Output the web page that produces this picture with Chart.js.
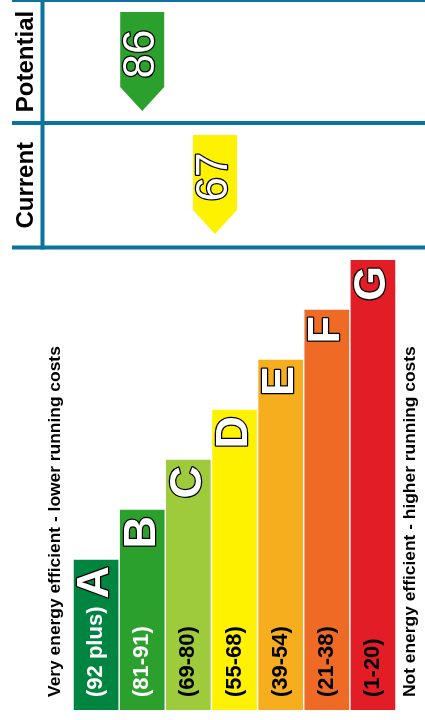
<!DOCTYPE html>
<html>
<head>
<meta charset="utf-8">
<script src="https://cdn.jsdelivr.net/npm/chart.js@4/dist/chart.umd.min.js"></script>
<style>
  html, body { margin: 0; padding: 0; background: #fff; }
  canvas { display: block; }
</style>
</head>
<body>
<canvas id="epc" width="425" height="720"></canvas>
<script>
  // bands, best to worst
  const bandLetters = ['A', 'B', 'C', 'D', 'E', 'F', 'G']
  const bandRanges = ['(92 plus)', '(81-91)', '(69-80)', '(55-68)', '(39-54)', '(21-38)', '(1-20)']
  const bandLow = [92, 81, 69, 55, 39, 21, 1]
  const bandHigh = [100, 91, 80, 68, 54, 38, 20]
  const bandLength = [3, 4, 5, 6, 7, 8, 9]
  const bandColors = ['#008540', '#2ba02d', '#9dcb3c', '#fff200', '#f6ad1e', '#ee6a25', '#e31d25']
  const rangeTextColors = ['#fff', '#fff', '#000', '#000', '#000', '#000', '#000']

  // ratings shown in the top panel
  const ratingLabels = ['Potential', 'Current']
  const ratingValues = [86, 67]

  const FONT = '"Liberation Sans", Arial, sans-serif'
  const FRAME = '#0a73a0'

  // where a rating sits along the band axis (fractional band index)
  const ratingPosition = (value) => {
    const i = bandLow.findIndex((lo, idx) => value >= lo && value <= bandHigh[idx])
    const frac = (value - bandLow[i]) / (bandHigh[i] - bandLow[i])
    return { index: i, pos: i + 0.5 - frac }
  }

  const rotatedText = (ctx, text, x, y, font, color, align, baseline, stroke) => {
    ctx.save()
    ctx.translate(x, y)
    ctx.rotate(-Math.PI / 2)
    ctx.font = font
    ctx.textAlign = align
    ctx.textBaseline = baseline
    if (stroke) {
      ctx.lineWidth = 2.5
      ctx.lineJoin = 'round'
      ctx.strokeStyle = '#000'
      ctx.strokeText(text, 0, 0)
    }
    ctx.fillStyle = color
    ctx.fillText(text, 0, 0)
    ctx.restore()
  }

  const epcDecor = {
    id: 'epcDecor',
    afterDraw(chart) {
      const ctx = chart.ctx
      const xScale = chart.scales.x
      const meta = chart.getDatasetMeta(0)

      // band labels
      meta.data.forEach((bar, i) => {
        rotatedText(ctx, bandRanges[i], bar.x, bar.base - 13, 'bold 22px ' + FONT,
          rangeTextColors[i], 'left', 'middle')
        rotatedText(ctx, bandLetters[i], bar.x, bar.y + 6, 'bold 45px ' + FONT,
          '#fff', 'right', 'middle', true)
      })

      // side captions
      const bottom = meta.data[0].base - 13
      rotatedText(ctx, 'Very energy efficient - lower running costs', 59.5, bottom,
        'bold 17.4px ' + FONT, '#000', 'left', 'alphabetic')
      rotatedText(ctx, 'Not energy efficient - higher running costs', 415, bottom,
        'bold 17.4px ' + FONT, '#000', 'left', 'alphabetic')

      // top panel frame
      const rowLines = [0, 123, 247.5]
      ctx.save()
      ctx.strokeStyle = FRAME
      ctx.lineWidth = 4
      rowLines.forEach((y) => {
        ctx.beginPath()
        ctx.moveTo(12, y)
        ctx.lineTo(425, y)
        ctx.stroke()
      })
      ctx.beginPath()
      ctx.moveTo(42.5, 0)
      ctx.lineTo(42.5, 249.5)
      ctx.stroke()
      ctx.restore()

      // rating arrows
      ratingLabels.forEach((label, r) => {
        const top = rowLines[r]
        const mid = (rowLines[r] + rowLines[r + 1]) / 2
        rotatedText(ctx, label, 33, mid, 'bold 24px ' + FONT, '#000', 'center', 'alphabetic')

        const { index, pos } = ratingPosition(ratingValues[r])
        const cx = xScale.getPixelForValue(pos)
        const w = 44
        const y0 = top + 12
        const y1 = y0 + 75
        const tip = y1 + 24
        ctx.save()
        ctx.fillStyle = bandColors[index]
        ctx.beginPath()
        ctx.moveTo(cx - w / 2, y0)
        ctx.lineTo(cx + w / 2, y0)
        ctx.lineTo(cx + w / 2, y1)
        ctx.lineTo(cx, tip)
        ctx.lineTo(cx - w / 2, y1)
        ctx.closePath()
        ctx.fill()
        ctx.restore()
        rotatedText(ctx, String(ratingValues[r]), cx, y0 + 42, '44px ' + FONT,
          '#fff', 'center', 'middle', true)
      })
    }
  }

  new Chart(document.getElementById('epc'), {
    type: 'bar',
    data: {
      labels: bandLetters,
      datasets: [{
        data: bandLength,
        backgroundColor: bandColors,
        borderWidth: 0,
        barThickness: 44
      }]
    },
    options: {
      responsive: false,
      animation: false,
      events: [],
      devicePixelRatio: 1,
      layout: { padding: { left: 73, right: 29, top: 260, bottom: 10 } },
      plugins: { legend: { display: false }, tooltip: { enabled: false } },
      scales: {
        x: { display: false },
        y: { display: false, min: 0, max: 9 }
      }
    },
    plugins: [epcDecor]
  })
</script>
</body>
</html>
